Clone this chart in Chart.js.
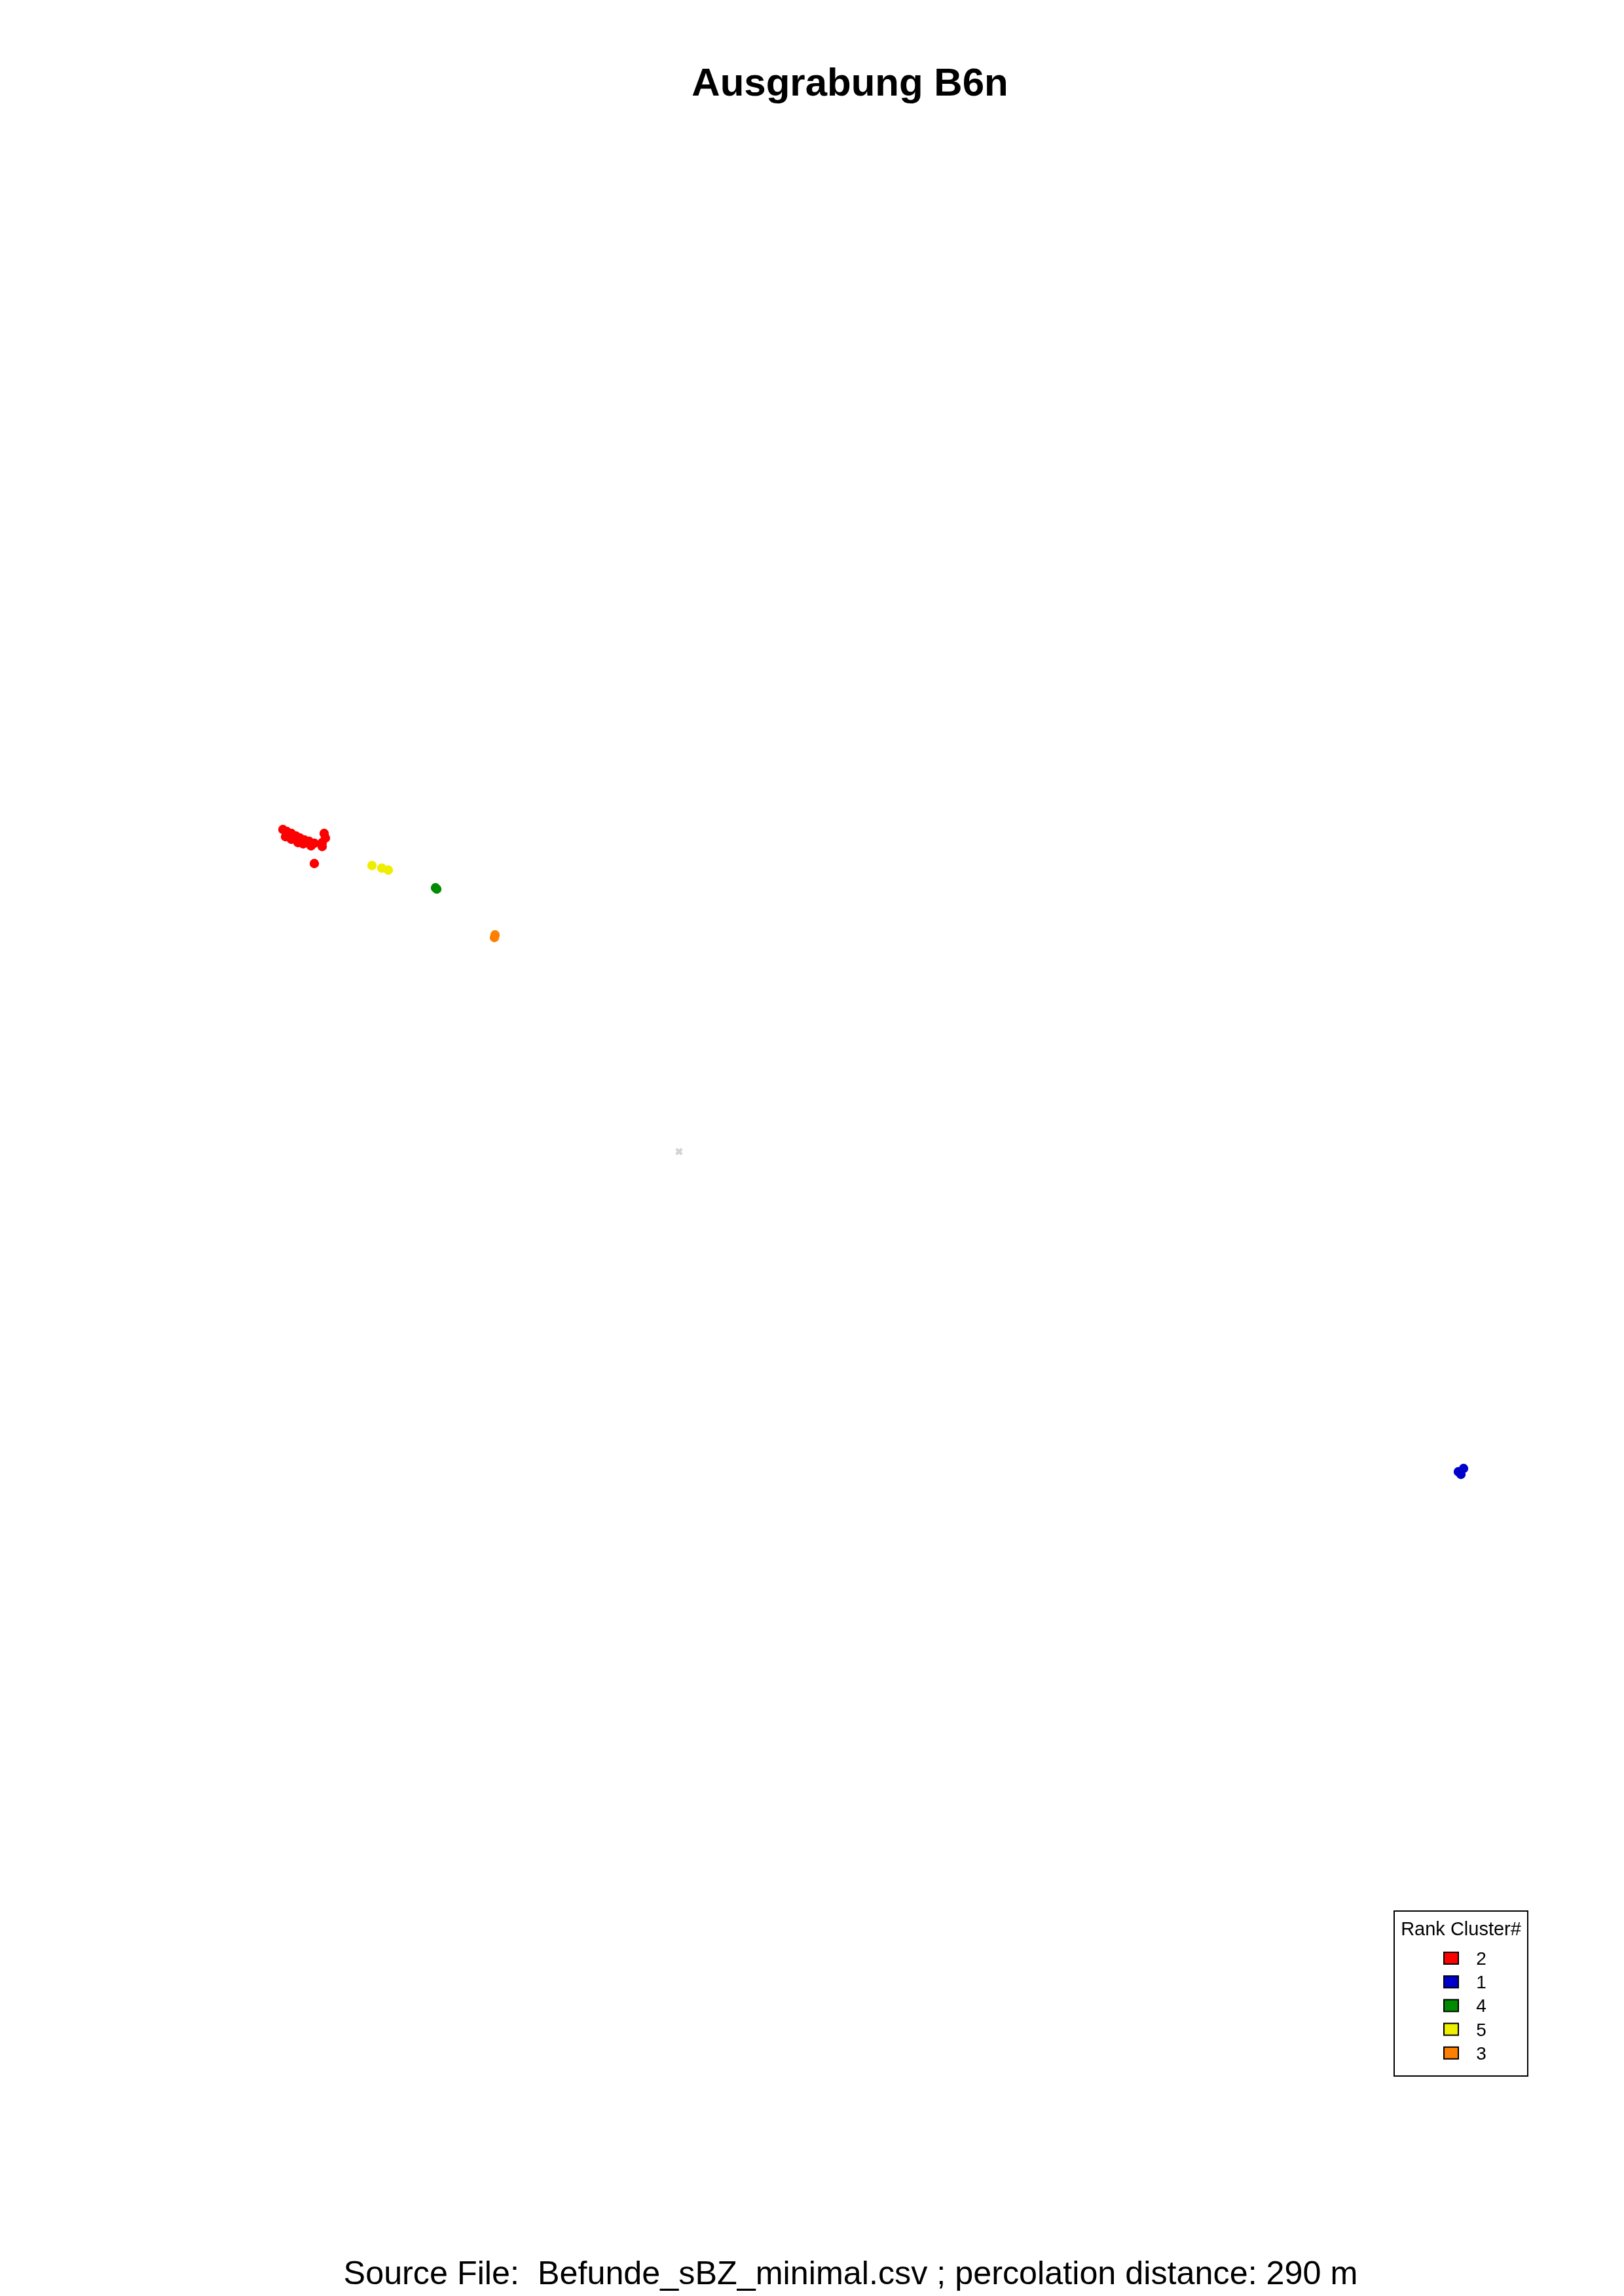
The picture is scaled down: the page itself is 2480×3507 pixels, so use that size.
<!DOCTYPE html>
<html>
<head>
<meta charset="utf-8">
<script src="https://cdn.jsdelivr.net/npm/chart.js@4/dist/chart.umd.min.js"></script>
<style>
html,body{margin:0;padding:0;background:#fff;}
canvas{display:block;}
</style>
</head>
<body>
<canvas id="c" width="2480" height="3507"></canvas>
<script>
// Coordinates relative to the centre marker (arbitrary map units; y = north)
const redX = [-605,-599,-601,-592,-585,-592,-579,-582,-572,-574,-565,-562,-557,-542,-540,-545,-545,-557];
const redY = [492,489,481,486,482,477,479,472,476,470,474,467,471,486,479,472,466,440];
const yellowX = [-469,-454,-444];
const yellowY = [437,433,430];
const greenX = [-372,-370];
const greenY = [403,401];
const orangeX = [-281,-282];
const orangeY = [331,327];
const blueX = [1190,1198,1194];
const blueY = [-489,-484,-493];
const centerX = [0];
const centerY = [0];

const legendLabels = ['2','1','4','5','3'];
const legendColors = ['#FF0000','#0000CD','#008B00','#EEEE00','#FF7F00'];
const titleText = 'Ausgrabung B6n';
const footerText = 'Source File:  Befunde_sBZ_minimal.csv ; percolation distance: 290 m';
const legendTitle = 'Rank Cluster#';

function pts(xs, ys){ return xs.map((x,i)=>({x:x, y:ys[i]})); }

const FONT = '"Liberation Sans", Arial, Helvetica, sans-serif';

const decor = {
  id: 'decor',
  afterDraw(chart){
    const ctx = chart.ctx;
    ctx.save();
    ctx.fillStyle = '#000';
    ctx.textAlign = 'center';
    ctx.textBaseline = 'alphabetic';
    ctx.font = 'bold 60px ' + FONT;
    ctx.fillText(titleText, 1298, 146);
    ctx.font = '50.3px ' + FONT;
    ctx.fillText(footerText, 1299, 3489);
    // legend box
    ctx.lineWidth = 2;
    ctx.strokeStyle = '#000';
    ctx.strokeRect(2129, 2919, 204, 252);
    ctx.font = '29px ' + FONT;
    ctx.fillText(legendTitle, 2231, 2956);
    ctx.font = '28px ' + FONT;
    legendLabels.forEach((lab,i)=>{
      const cy = 2991 + i*36.2;
      ctx.fillStyle = legendColors[i];
      ctx.fillRect(2205, cy-9, 22, 18);
      ctx.strokeRect(2205, cy-9, 22, 18);
      ctx.fillStyle = '#000';
      ctx.textAlign = 'center';
      ctx.fillText(lab, 2262, cy+10);
    });
    ctx.restore();
  }
};

const ds = (label, xs, ys, color, extra) => Object.assign({
  label: label,
  data: pts(xs, ys),
  backgroundColor: color,
  borderColor: color,
  pointRadius: 7.2,
  pointBorderWidth: 0,
  pointHoverRadius: 7.2,
  showLine: false
}, extra || {});

new Chart(document.getElementById('c'), {
  type: 'scatter',
  data: {
    datasets: [
      ds('2', redX, redY, '#FF0000'),
      ds('1', blueX, blueY, '#0000CD'),
      ds('4', greenX, greenY, '#008B00'),
      ds('5', yellowX, yellowY, '#EEEE00'),
      ds('3', orangeX, orangeY, '#FF7F00'),
      ds('centre', centerX, centerY, '#D3D3D3', {pointStyle:'crossRot', pointRadius:6, pointBorderWidth:4})
    ]
  },
  options: {
    responsive: false,
    animation: false,
    devicePixelRatio: 1,
    layout: { padding: 0, autoPadding: false },
    plugins: { legend: { display: false }, title: { display: false }, tooltip: { enabled: false } },
    scales: {
      x: { type: 'linear', min: -1037, max: 1443, display: false },
      y: { type: 'linear', min: -1748, max: 1759, display: false }
    }
  },
  plugins: [decor]
});
</script>
</body>
</html>
